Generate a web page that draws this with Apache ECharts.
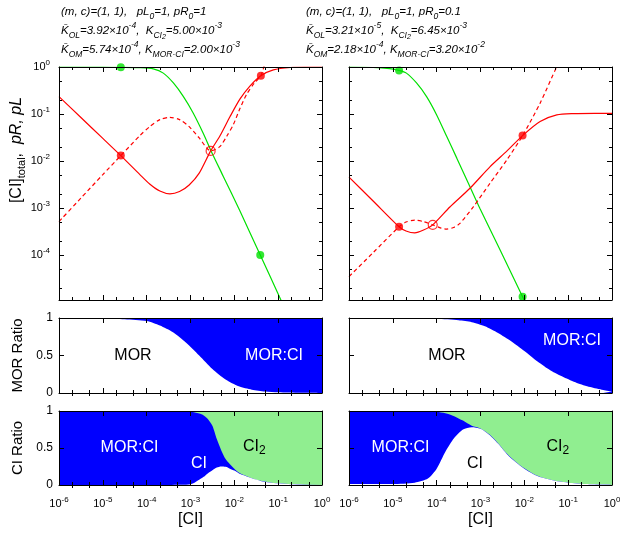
<!DOCTYPE html>
<html><head><meta charset="utf-8">
<script src="https://cdn.jsdelivr.net/npm/echarts@6/dist/echarts.min.js"></script>
<style>html,body{margin:0;padding:0;background:#fff}#c{width:620px;height:539px}</style>
</head><body><div id="c"></div>
<script>
const FONT = '"Liberation Sans", Arial, Helvetica, sans-serif';
const RED = '#ff0000', GREEN = '#00e000', BLUE = '#0000ff', LGREEN = '#90ee90';

// ---------- axis ticks ----------
const xTickExps = [-6, -5, -4, -3, -2, -1, 0];
const yTopTickExps = [-4, -3, -2, -1, 0];
const xMinorTicks = [2e-6, 5e-6, 2e-5, 5e-5, 2e-4, 5e-4, 2e-3, 5e-3, 0.02, 0.05, 0.2, 0.5];
const yMinorTicks = [2e-5, 5e-5, 2e-4, 5e-4, 2e-3, 5e-3, 0.02, 0.05, 0.2, 0.5];
const yRatioTicks = [0, 0.5, 1];
const xMin = 1e-6, xMax = 1, yTopMin = 1.1e-5, yTopMax = 1;

// ---------- top-left panel ----------
const tlGreenX = [1e-6, 1e-5, 2.57e-5, 7.1e-5, 1.41e-4, 2.4e-4, 4.07e-4, 6.9e-4, 1.15e-3, 1.95e-3, 3.0e-3, 5.6e-3, 1.32e-2, 3.9e-2, 0.112, 0.316];
const tlGreenY = [0.993, 0.99, 0.982, 0.966, 0.912, 0.741, 0.457, 0.234, 0.105, 0.0389, 0.0158, 4.7e-3, 8.9e-4, 1.0e-4, 1.17e-5, 1.4e-6];
const tlRedX = [1e-6, 3.16e-6, 1e-5, 2.57e-5, 7.0e-5, 1.17e-4, 2.0e-4, 3.39e-4, 5.62e-4, 9.33e-4, 1.58e-3, 2.88e-3, 4.68e-3, 7.94e-3, 1.35e-2, 2.29e-2, 4.03e-2, 7.76e-2, 0.19, 0.5, 1];
const tlRedY = [0.234, 0.0841, 0.0302, 0.0130, 5.13e-3, 3.24e-3, 2.29e-3, 2.0e-3, 2.24e-3, 3.09e-3, 5.5e-3, 0.0164, 0.0339, 0.0871, 0.209, 0.398, 0.653, 0.871, 0.977, 0.995, 0.998];
const tlRedDashX = [1e-6, 3.16e-6, 1e-5, 2.57e-5, 7.0e-5, 1.17e-4, 2.0e-4, 3.39e-4, 5.62e-4, 9.33e-4, 1.58e-3, 2.88e-3, 3.55e-3, 4.73e-3, 6.76e-3, 9.55e-3, 1.35e-2, 1.91e-2, 2.82e-2, 4.03e-2, 5.01e-2, 6.31e-2];
const tlRedDashY = [5.13e-4, 1.62e-3, 5.13e-3, 0.0130, 0.0347, 0.0537, 0.0759, 0.0851, 0.0759, 0.0537, 0.0309, 0.0164, 0.0174, 0.0204, 0.0339, 0.0603, 0.132, 0.263, 0.447, 0.653, 1.20, 2.14];
const tlRedDots = [[2.57e-5, 0.0130], [4.03e-2, 0.653]];
const tlRedOpen = [[2.88e-3, 0.0164]];
const tlGreenDots = [[2.57e-5, 0.982], [3.9e-2, 1.0e-4]];

// ---------- top-right panel ----------
const trGreenX = [1e-6, 3.55e-6, 8.5e-6, 1.39e-5, 2.04e-5, 3.47e-5, 5.89e-5, 1e-4, 1.70e-4, 2.88e-4, 5.75e-4, 9.77e-4, 2.82e-3, 9.12e-3, 1.58e-2];
const trGreenY = [0.995, 0.977, 0.920, 0.847, 0.741, 0.457, 0.234, 0.0955, 0.0331, 0.0115, 2.82e-3, 9.6e-4, 1.26e-4, 1.29e-5, 4.47e-6];
const trRedX = [1e-6, 3.55e-6, 1.39e-5, 2.0e-5, 3.16e-5, 5.01e-5, 8.13e-5, 2.0e-4, 5.75e-4, 1.66e-3, 3.98e-3, 9.12e-3, 2.29e-2, 5.5e-2, 0.132, 0.398, 1];
const trRedY = [4.52e-3, 1.41e-3, 3.98e-4, 3.24e-4, 2.95e-4, 3.39e-4, 4.37e-4, 1.05e-3, 2.63e-3, 7.59e-3, 0.0162, 0.0347, 0.0692, 0.0955, 0.102, 0.1035, 0.1035];
const trRedDashX = [1e-6, 3.55e-6, 1.39e-5, 2.0e-5, 3.16e-5, 5.01e-5, 8.13e-5, 1.26e-4, 1.70e-4, 2.51e-4, 3.39e-4, 6.92e-4, 1.66e-3, 3.98e-3, 9.12e-3, 2.29e-2, 5.5e-2, 0.1];
const trRedDashY = [3.47e-5, 1.12e-4, 3.98e-4, 5.01e-4, 5.5e-4, 5.13e-4, 4.37e-4, 3.72e-4, 3.55e-4, 3.89e-4, 4.68e-4, 1.07e-3, 3.39e-3, 0.0105, 0.0347, 0.170, 1.02, 3.16];
const trRedDots = [[1.39e-5, 3.98e-4], [9.12e-3, 0.0347]];
const trRedOpen = [[8.13e-5, 4.37e-4]];
const trGreenDots = [[1.39e-5, 0.847], [9.12e-3, 1.29e-5]];

// ---------- MOR ratio panels (fractions, MOR + MOR:CI = 1) ----------
const mlX = [1e-6, 1e-5, 3.16e-5, 1e-4, 2.0e-4, 3.98e-4, 7.94e-4, 1.58e-3, 3.16e-3, 6.31e-3, 1.26e-2, 2.51e-2, 5.01e-2, 0.1, 0.316, 1];
const mlMOR = [1.0, 0.995, 0.985, 0.96, 0.90, 0.81, 0.67, 0.50, 0.32, 0.18, 0.09, 0.045, 0.02, 0.01, 0.003, 0.001];
const mlMORCI = [0, 0.005, 0.015, 0.04, 0.10, 0.19, 0.33, 0.50, 0.68, 0.82, 0.91, 0.955, 0.98, 0.99, 0.997, 0.999];
const mrX = [1e-6, 1e-5, 1e-4, 3.16e-4, 6.31e-4, 1.26e-3, 2.51e-3, 5.01e-3, 0.01, 0.02, 0.0398, 0.0794, 0.158, 0.316, 0.631, 1];
const mrMOR = [1.0, 0.998, 0.99, 0.97, 0.945, 0.89, 0.80, 0.69, 0.56, 0.42, 0.30, 0.21, 0.135, 0.08, 0.04, 0.02];
const mrMORCI = [0, 0.002, 0.01, 0.03, 0.055, 0.11, 0.20, 0.31, 0.44, 0.58, 0.70, 0.79, 0.865, 0.92, 0.96, 0.98];

// ---------- CI ratio panels (fractions, CI + MOR:CI + CI2 = 1) ----------
const blX = [1e-6, 1e-5, 1e-4, 3.16e-4, 6.31e-4, 1e-3, 1.26e-3, 1.58e-3, 2.0e-3, 2.51e-3, 3.16e-3, 3.98e-3, 5.01e-3, 6.31e-3, 7.94e-3, 0.01, 0.0126, 0.0158, 0.0251, 0.0398, 0.0631, 0.1, 0.2, 0.398, 1];
const blCI = [0, 0, 0, 0, 0.002, 0.01, 0.035, 0.07, 0.11, 0.16, 0.20, 0.235, 0.25, 0.245, 0.22, 0.195, 0.16, 0.135, 0.09, 0.055, 0.035, 0.022, 0.01, 0.005, 0.002];
const blMORCI = [1, 1, 1, 1, 0.993, 0.98, 0.945, 0.895, 0.83, 0.73, 0.60, 0.385, 0.22, 0.105, 0.06, 0.025, 0.01, 0.005, 0.002, 0.001, 0, 0, 0, 0, 0];
const blCI2 = [0, 0, 0, 0, 0.005, 0.01, 0.02, 0.035, 0.06, 0.11, 0.20, 0.38, 0.53, 0.65, 0.72, 0.78, 0.83, 0.86, 0.908, 0.944, 0.965, 0.978, 0.99, 0.995, 0.998];
const brX = [1e-6, 1e-5, 3.16e-5, 6.31e-5, 1e-4, 1.58e-4, 2.51e-4, 3.98e-4, 6.31e-4, 1e-3, 1.58e-3, 2.51e-3, 3.98e-3, 6.31e-3, 0.01, 0.0158, 0.0251, 0.0398, 0.0631, 0.1, 0.251, 0.631, 1];
const brCI = [0.012, 0.014, 0.032, 0.087, 0.22, 0.45, 0.635, 0.75, 0.78, 0.76, 0.68, 0.56, 0.42, 0.31, 0.22, 0.15, 0.10, 0.07, 0.046, 0.032, 0.014, 0.006, 0.004];
const brMORCI = [0.988, 0.986, 0.968, 0.91, 0.77, 0.52, 0.295, 0.12, 0.02, 0.005, 0.005, 0.005, 0.005, 0.005, 0.005, 0.002, 0, 0, 0, 0, 0, 0, 0];
const brCI2 = [0, 0, 0, 0.003, 0.01, 0.03, 0.07, 0.13, 0.20, 0.235, 0.315, 0.435, 0.575, 0.685, 0.775, 0.848, 0.90, 0.93, 0.954, 0.968, 0.986, 0.994, 0.996];

// ---------- layout ----------
const grids = [
  {left: 59, top: 67, width: 263, height: 233},
  {left: 349, top: 67, width: 263, height: 233},
  {left: 59, top: 318, width: 263, height: 75},
  {left: 349, top: 318, width: 263, height: 75},
  {left: 59, top: 411, width: 263, height: 74},
  {left: 349, top: 411, width: 263, height: 74}
].map(g => Object.assign({containLabel: false, outerBoundsMode: 'none', show: false}, g));

const tickRich = {
  b: {fontSize: 11, fontFamily: FONT, color: '#000', lineHeight: 16},
  s: {fontSize: 8, fontFamily: FONT, color: '#000', lineHeight: 7, verticalAlign: 'top'}
};
function powLabel(exps) {
  return function (v) {
    const l = Math.log10(v), e = Math.round(l);
    if (Math.abs(l - e) > 1e-6 || exps.indexOf(e) < 0) return '';
    return '{b|10}{s|' + e + '}';
  };
}
const LINE = {show: true, onZero: false, lineStyle: {color: '#000', width: 1}};
const TICK = {show: true, inside: true, length: 5, lineStyle: {color: '#000', width: 1}};
const NOMINOR = {splitLine: {show: false}, minorTick: {show: false}, minorSplitLine: {show: false}, z: 10};

const xAxes = [], yAxes = [], gx = [], gy = [];
function addX(g, labels) {
  const base = Object.assign({type: 'log', gridIndex: g, min: xMin, max: xMax}, NOMINOR);
  gx[g] = xAxes.length;
  xAxes.push(Object.assign({}, base, {position: 'bottom', axisLine: LINE, axisTick: TICK,
    axisLabel: labels ? {show: true, formatter: powLabel(xTickExps), rich: tickRich, margin: 11, color: '#000', showMinLabel: true, showMaxLabel: true} : {show: false}}));
  xAxes.push(Object.assign({}, base, {position: 'top', axisLine: LINE, axisTick: TICK, axisLabel: {show: false}}));
  ['bottom', 'top'].forEach(p => xAxes.push(Object.assign({}, base, {position: p, axisLine: {show: false},
    axisTick: {show: true, inside: true, length: 3, customValues: xMinorTicks, lineStyle: {color: '#000', width: 1}}, axisLabel: {show: false}})));
}
function addYTop(g, labels) {
  const base = Object.assign({type: 'log', gridIndex: g, min: yTopMin, max: yTopMax}, NOMINOR);
  gy[g] = yAxes.length;
  yAxes.push(Object.assign({}, base, {position: 'left', axisLine: LINE, axisTick: TICK,
    axisLabel: labels ? {show: true, formatter: powLabel(yTopTickExps), rich: tickRich, margin: 9, color: '#000'} : {show: false}}));
  yAxes.push(Object.assign({}, base, {position: 'right', axisLine: LINE, axisTick: TICK, axisLabel: {show: false}}));
  ['left', 'right'].forEach(p => yAxes.push(Object.assign({}, base, {position: p, axisLine: {show: false},
    axisTick: {show: true, inside: true, length: 3, customValues: yMinorTicks, lineStyle: {color: '#000', width: 1}}, axisLabel: {show: false}})));
}
function addYRatio(g, labels) {
  const base = Object.assign({type: 'value', gridIndex: g, min: yRatioTicks[0], max: yRatioTicks[2], interval: yRatioTicks[1]}, NOMINOR);
  gy[g] = yAxes.length;
  yAxes.push(Object.assign({}, base, {position: 'left', axisLine: LINE, axisTick: TICK,
    axisLabel: labels ? {show: true, fontSize: 12, fontFamily: FONT, color: '#000', margin: 6} : {show: false}}));
  yAxes.push(Object.assign({}, base, {position: 'right', axisLine: LINE, axisTick: TICK, axisLabel: {show: false}}));
}
for (let g = 0; g < 6; g++) addX(g, g >= 4);
addYTop(0, true); addYTop(1, false);
addYRatio(2, true); addYRatio(3, false); addYRatio(4, true); addYRatio(5, false);

const series = [];
function pairs(xs, ys) { return xs.map((x, i) => [x, ys[i]]); }
function addLine(g, xs, ys, color, dashed) {
  series.push({type: 'line', xAxisIndex: gx[g], yAxisIndex: gy[g], data: pairs(xs, ys), symbol: 'none', showSymbol: false,
    smooth: 0.25, clip: true, silent: true, z: 3,
    lineStyle: {color: color, width: 1.2, type: dashed ? [4, 3] : 'solid'}});
}
function addDots(g, pts, color, open) {
  series.push({type: 'scatter', xAxisIndex: gx[g], yAxisIndex: gy[g], data: pts, symbol: 'circle',
    symbolSize: open ? 9 : 8, silent: true, z: 5,
    itemStyle: open ? {color: 'rgba(0,0,0,0)', borderColor: color, borderWidth: 1.2} : {color: color}});
}
// layers listed bottom-to-top; each is drawn as an area from 0 up to its cumulative top,
// the upper layers first so the lower ones are painted over them (a manual stack)
function addStack(g, xs, layers) {
  const tops = [];
  let run = xs.map(() => 0);
  layers.forEach(l => { run = run.map((v, i) => v + l.data[i]); tops.push(run.slice()); });
  for (let k = layers.length - 1; k >= 0; k--) {
    series.push({type: 'line', name: layers[k].name, xAxisIndex: gx[g], yAxisIndex: gy[g],
      data: pairs(xs, tops[k]), symbol: 'none', showSymbol: false, smooth: 0.25, clip: true, silent: true, z: 2,
      lineStyle: {width: 0}, areaStyle: {color: layers[k].color, opacity: 1, origin: 'start'}});
  }
}

addLine(0, tlGreenX, tlGreenY, GREEN, false);
addLine(0, tlRedX, tlRedY, RED, false);
addLine(0, tlRedDashX, tlRedDashY, RED, true);
addDots(0, tlRedDots, RED, false);
addDots(0, tlRedOpen, RED, true);
addDots(0, tlGreenDots, GREEN, false);

addLine(1, trGreenX, trGreenY, GREEN, false);
addLine(1, trRedX, trRedY, RED, false);
addLine(1, trRedDashX, trRedDashY, RED, true);
addDots(1, trRedDots, RED, false);
addDots(1, trRedOpen, RED, true);
addDots(1, trGreenDots, GREEN, false);

addStack(2, mlX, [{name: 'MOR', data: mlMOR, color: '#ffffff'}, {name: 'MOR:CI', data: mlMORCI, color: BLUE}]);
addStack(3, mrX, [{name: 'MOR', data: mrMOR, color: '#ffffff'}, {name: 'MOR:CI', data: mrMORCI, color: BLUE}]);
addStack(4, blX, [{name: 'CI', data: blCI, color: '#ffffff'}, {name: 'MOR:CI', data: blMORCI, color: BLUE}, {name: 'CI2', data: blCI2, color: LGREEN}]);
addStack(5, brX, [{name: 'CI', data: brCI, color: '#ffffff'}, {name: 'MOR:CI', data: brMORCI, color: BLUE}, {name: 'CI2', data: brCI2, color: LGREEN}]);

// ---------- texts ----------
const titleRich = {
  b: {fontSize: 11.5, fontFamily: FONT, fontStyle: 'italic', fill: '#000', lineHeight: 19},
  sub: {fontSize: 8.5, fontFamily: FONT, fontStyle: 'italic', fill: '#000', lineHeight: 11, verticalAlign: 'bottom'},
  sup: {fontSize: 8.5, fontFamily: FONT, fontStyle: 'italic', fill: '#000', lineHeight: 10, verticalAlign: 'top'},
  ss: {fontSize: 7, fontFamily: FONT, fontStyle: 'italic', fill: '#000', lineHeight: 5, verticalAlign: 'bottom'}
};
const titleL = '{b|(m, c)=(1, 1),   pL}{sub|0}{b|=1, pR}{sub|0}{b|=1}\n' +
  '{b|K\u0304}{sub|OL}{b|=3.92\u00d710}{sup|-4}{b|,  K}{sub|CI}{ss|2}{b|=5.00\u00d710}{sup|-3}\n' +
  '{b|K\u0304}{sub|OM}{b|=5.74\u00d710}{sup|-4}{b|, K}{sub|MOR\u00b7CI}{b|=2.00\u00d710}{sup|-3}';
const titleR = '{b|(m, c)=(1, 1),   pL}{sub|0}{b|=1, pR}{sub|0}{b|=0.1}\n' +
  '{b|K\u0304}{sub|OL}{b|=3.21\u00d710}{sup|-5}{b|,  K}{sub|CI}{ss|2}{b|=6.45\u00d710}{sup|-3}\n' +
  '{b|K\u0304}{sub|OM}{b|=2.18\u00d710}{sup|-4}{b|, K}{sub|MOR\u00b7CI}{b|=3.20\u00d710}{sup|-2}';

function txt(x, y, text, opts) {
  return Object.assign({type: 'text', x: x, y: y, z: 20, silent: true,
    style: Object.assign({text: text, fontSize: 16, fontFamily: FONT, fill: '#000', align: 'center', verticalAlign: 'middle',
      textAlign: 'center', textVerticalAlign: 'middle'}, opts && opts.style)}, opts && opts.el);
}
const labRich = {
  a: {fontSize: 16, fontFamily: FONT, fill: '#000', lineHeight: 20},
  s: {fontSize: 12, fontFamily: FONT, fill: '#000', lineHeight: 10, verticalAlign: 'bottom'}
};
const yNameRich = {
  a: {fontSize: 16, fontFamily: FONT, fill: '#000', lineHeight: 20},
  t: {fontSize: 11, fontFamily: FONT, fill: '#000', lineHeight: 10, verticalAlign: 'bottom'},
  i: {fontSize: 16, fontFamily: FONT, fontStyle: 'italic', fill: '#000', lineHeight: 20}
};
const graphic = [
  txt(61, 2.5, titleL, {style: {rich: titleRich, align: 'left', verticalAlign: 'top', textAlign: 'left', textVerticalAlign: 'top', fontSize: 11.5, fontStyle: 'italic'}}),
  txt(306, 2.5, titleR, {style: {rich: titleRich, align: 'left', verticalAlign: 'top', textAlign: 'left', textVerticalAlign: 'top', fontSize: 11.5, fontStyle: 'italic'}}),
  txt(17, 150, '{a|[CI]}{t|total}{a|,  }{i|pR, pL}', {style: {rich: yNameRich}, el: {rotation: Math.PI / 2}}),
  txt(18, 355.5, 'MOR Ratio', {style: {fontSize: 15}, el: {rotation: Math.PI / 2}}),
  txt(18, 448, 'CI Ratio', {style: {fontSize: 15}, el: {rotation: Math.PI / 2}}),
  txt(190.5, 520, '[CI]'),
  txt(480.5, 520, '[CI]'),
  txt(133, 356, 'MOR'),
  txt(274, 356, 'MOR:CI', {style: {fill: '#fff'}}),
  txt(447, 356, 'MOR'),
  txt(572, 341, 'MOR:CI', {style: {fill: '#fff'}}),
  txt(129.5, 447.5, 'MOR:CI', {style: {fill: '#fff'}}),
  txt(199, 463.5, 'CI', {style: {fill: '#fff'}}),
  txt(243, 447, '{a|CI}{s|2}', {style: {rich: labRich, align: 'left', textAlign: 'left'}}),
  txt(400.5, 447.5, 'MOR:CI', {style: {fill: '#fff'}}),
  txt(475, 463.5, 'CI'),
  txt(546.5, 447, '{a|CI}{s|2}', {style: {rich: labRich, align: 'left', textAlign: 'left'}})
];

const chart = echarts.init(document.getElementById('c'), null, {renderer: 'canvas', width: 620, height: 539});
chart.setOption({
  animation: false,
  backgroundColor: '#ffffff',
  grid: grids,
  xAxis: xAxes,
  yAxis: yAxes,
  series: series,
  graphic: graphic
});
</script>
</body></html>
